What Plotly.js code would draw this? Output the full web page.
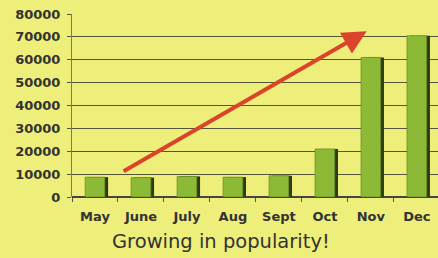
<!DOCTYPE html>
<html>
<head>
<meta charset="utf-8">
<script src="https://cdn.plot.ly/plotly-3.0.1.min.js"></script>
<style>html,body{margin:0;padding:0;background:#eeee7a;}#chart{width:438px;height:258px;}</style>
</head>
<body>
<div id="chart"></div>
<script>
var months = ["May", "June", "July", "Aug", "Sept", "Oct", "Nov", "Dec"];
var visitors = [8700, 8500, 9000, 8700, 9300, 21000, 61000, 70500];
var yTicks = [0, 10000, 20000, 30000, 40000, 50000, 60000, 70000, 80000];
var chartTitle = "Growing in popularity!";

var bg = "#eeee7a";
var barW = 0.43;

var shadow = {
  type: "bar", x: months, y: visitors,
  width: barW, offset: -barW / 2 + 0.07,
  marker: {color: "#2f3a18", line: {width: 0}},
  hoverinfo: "skip", showlegend: false
};
var bars = {
  type: "bar", x: months, y: visitors,
  width: barW, offset: -barW / 2,
  marker: {color: "#8dba36", line: {width: 0.6, color: "#5f7d22"}},
  showlegend: false
};

var layout = {
  width: 438, height: 258,
  margin: {l: 72, r: 0, t: 14, b: 61},
  paper_bgcolor: bg, plot_bgcolor: bg,
  barmode: "overlay",
  showlegend: false,
  xaxis: {
    type: "category",
    range: [-0.5, 7.46],
    showgrid: false,
    zeroline: false,
    showline: false,
    ticks: "outside", tickson: "boundaries", ticklen: 4, tickcolor: "#555",
    ticklabelstandoff: 10,
    tickfont: {family: "DejaVu Sans", size: 13, color: "#333", weight: "bold"},
    tickangle: 0
  },
  yaxis: {
    range: [0, 80000],
    tickvals: yTicks,
    ticktext: yTicks.map(String),
    showgrid: true, gridcolor: "#55553a", gridwidth: 1,
    zeroline: true, zerolinecolor: "#444", zerolinewidth: 1.5,
    showline: true, linecolor: "#777", linewidth: 1,
    ticks: "outside", ticklen: 4, tickcolor: "#55553a",
    ticklabelstandoff: 4,
    tickfont: {family: "DejaVu Sans", size: 13, color: "#333", weight: "bold"}
  },
  annotations: [
    {
      x: 5.91, y: 72500, xref: "x", yref: "y",
      ax: 0.59, ay: 10900, axref: "x", ayref: "y",
      text: "", showarrow: true,
      arrowhead: 2, arrowsize: 1.2, arrowwidth: 4, arrowcolor: "#d9442a"
    },
    {
      x: 0.407, y: 0, xref: "paper", yref: "paper",
      yshift: -44, yanchor: "middle", xanchor: "center",
      text: chartTitle, showarrow: false,
      font: {family: "DejaVu Sans", size: 19.5, color: "#333"}
    }
  ]
};

Plotly.newPlot("chart", [shadow, bars], layout, {displayModeBar: false, staticPlot: true});
</script>
</body>
</html>
